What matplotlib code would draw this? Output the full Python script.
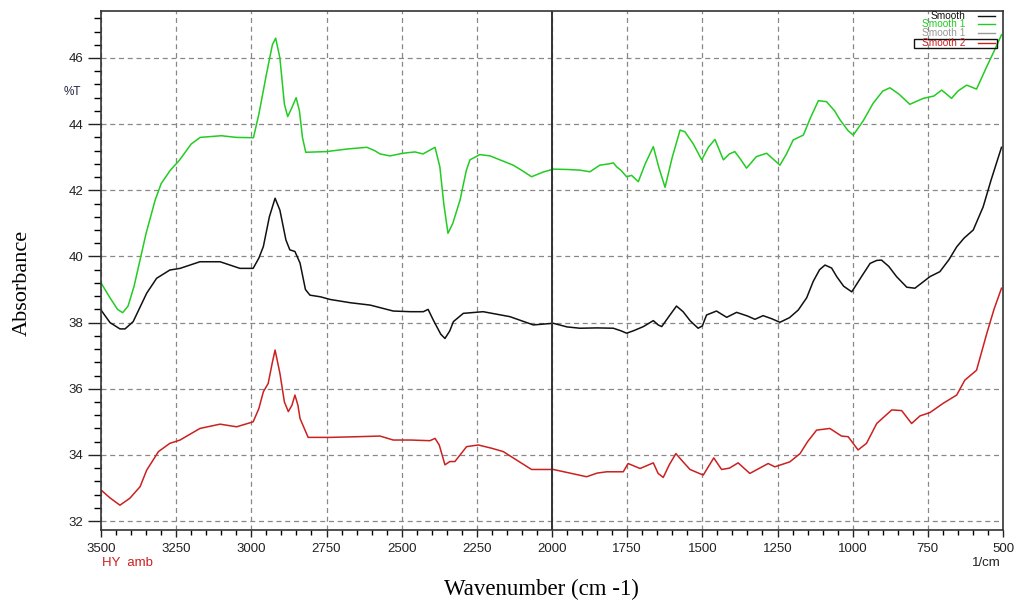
import matplotlib
matplotlib.use("Agg")
import matplotlib.pyplot as plt
from matplotlib.ticker import MultipleLocator
from matplotlib.patches import Rectangle

# --- spectra (wavenumber in 1/cm, %T) ---
wn_smooth = [3500, 3470, 3437, 3420, 3393, 3348, 3315, 3271, 3237, 3171, 3104, 3038, 2994, 2975,
             2960, 2940, 2921, 2905, 2885, 2872, 2855, 2838, 2820, 2805, 2770, 2738, 2670, 2605,
             2528, 2470, 2428, 2412, 2395, 2370, 2356, 2340, 2328, 2295, 2229, 2140, 2062, 1996,
             1950, 1907, 1850, 1796, 1770, 1752, 1730, 1696, 1663, 1647, 1635, 1610, 1586, 1564,
             1540, 1514, 1500, 1486, 1453, 1419, 1386, 1350, 1325, 1298, 1270, 1242, 1210, 1181,
             1153, 1131, 1110, 1092, 1070, 1053, 1030, 1003, 970, 942, 920, 904, 880, 854, 820,
             793, 770, 743, 710, 680, 654, 630, 599, 566, 540, 505]
t_smooth = [38.38, 38.0, 37.81, 37.81, 38.03, 38.89, 39.34, 39.59, 39.64, 39.84, 39.84, 39.64, 39.64, 39.95,
            40.3, 41.2, 41.76, 41.4, 40.5, 40.2, 40.15, 39.8, 39.0, 38.83, 38.78, 38.7, 38.6, 38.53,
            38.35, 38.33, 38.33, 38.4, 38.08, 37.65, 37.52, 37.75, 38.03, 38.28, 38.33, 38.18, 37.93, 37.98,
            37.87, 37.83, 37.84, 37.83, 37.75, 37.68, 37.75, 37.88, 38.06, 37.93, 37.88, 38.2, 38.5, 38.33,
            38.05, 37.83, 37.9, 38.23, 38.35, 38.16, 38.31, 38.2, 38.10, 38.21, 38.12, 38.01, 38.15, 38.38,
            38.75, 39.25, 39.6, 39.74, 39.65, 39.39, 39.1, 38.93, 39.4, 39.79, 39.88, 39.89, 39.7, 39.39, 39.07,
            39.04, 39.2, 39.39, 39.54, 39.9, 40.29, 40.55, 40.80, 41.50, 42.3, 43.3]

wn_smooth1 = [3500, 3470, 3445, 3428, 3410, 3390, 3370, 3350, 3320, 3300, 3270, 3240, 3200, 3170, 3100,
              3050, 2993, 2975, 2950, 2930, 2919, 2905, 2890, 2879, 2865, 2851, 2840, 2830, 2819, 2750,
              2680, 2616, 2590, 2572, 2539, 2496, 2456, 2429, 2389, 2373, 2360, 2346, 2330, 2306, 2285,
              2273, 2240, 2206, 2173, 2129, 2100, 2068, 2030, 1996, 1950, 1907, 1874, 1841, 1810, 1796,
              1785, 1770, 1752, 1735, 1713, 1690, 1663, 1645, 1624, 1600, 1574, 1558, 1530, 1502, 1480,
              1458, 1430, 1410, 1392, 1370, 1353, 1320, 1286, 1242, 1220, 1198, 1164, 1140, 1114, 1087,
              1060, 1042, 1015, 998, 965, 932, 900, 876, 845, 810, 765, 730, 704, 671, 650, 621, 588,
              554, 530, 505]
t_smooth1 = [39.2, 38.75, 38.4, 38.3, 38.5, 39.1, 39.9, 40.7, 41.7, 42.2, 42.6, 42.9, 43.4, 43.6, 43.65,
             43.6, 43.59, 44.3, 45.5, 46.4, 46.6, 46.0, 44.6, 44.23, 44.5, 44.8, 44.4, 43.6, 43.15, 43.17,
             43.25, 43.3, 43.2, 43.1, 43.04, 43.12, 43.16, 43.1, 43.3, 42.71, 41.6, 40.7, 41.0, 41.7, 42.6,
             42.92, 43.08, 43.04, 42.92, 42.76, 42.6, 42.41, 42.55, 42.64, 42.63, 42.61, 42.56, 42.76, 42.8, 42.83,
             42.71, 42.6, 42.41, 42.45, 42.26, 42.8, 43.32, 42.7, 42.09, 43.0, 43.82, 43.77, 43.4, 42.92, 43.3,
             43.54, 42.92, 43.1, 43.17, 42.9, 42.67, 43.02, 43.12, 42.76, 43.1, 43.52, 43.67, 44.2, 44.71, 44.68,
             44.4, 44.13, 43.8, 43.67, 44.1, 44.63, 45.0, 45.10, 44.9, 44.60, 44.78, 44.85, 45.03, 44.78, 45.0, 45.18, 45.06,
             45.74, 46.2, 46.7]

wn_smooth2 = [3500, 3470, 3437, 3404, 3370, 3348, 3309, 3271, 3237, 3171, 3104, 3049, 2994, 2975, 2960,
              2944, 2930, 2921, 2905, 2890, 2877, 2865, 2855, 2845, 2838, 2811, 2738, 2650, 2572, 2528,
              2470, 2406, 2389, 2375, 2356, 2340, 2323, 2284, 2245, 2200, 2162, 2110, 2068, 1996, 1940,
              1885, 1850, 1818, 1763, 1747, 1707, 1663, 1647, 1630, 1610, 1588, 1565, 1541, 1497, 1462,
              1436, 1410, 1381, 1342, 1281, 1259, 1209, 1175, 1150, 1120, 1076, 1037, 1015, 982, 954,
              920, 870, 837, 804, 776, 743, 699, 654, 627, 588, 554, 530, 505]
t_smooth2 = [32.94, 32.7, 32.48, 32.69, 33.04, 33.54, 34.10, 34.35, 34.45, 34.80, 34.93, 34.85, 35.00, 35.4, 35.91,
             36.16, 36.8, 37.17, 36.47, 35.6, 35.31, 35.5, 35.81, 35.5, 35.10, 34.53, 34.53, 34.55, 34.57, 34.45,
             34.45, 34.43, 34.50, 34.3, 33.70, 33.8, 33.80, 34.25, 34.30, 34.2, 34.10, 33.8, 33.56, 33.56, 33.45,
             33.34, 33.45, 33.49, 33.49, 33.74, 33.59, 33.76, 33.44, 33.32, 33.7, 34.04, 33.8, 33.56, 33.39, 33.91,
             33.56, 33.6, 33.76, 33.44, 33.74, 33.64, 33.79, 34.04, 34.4, 34.75, 34.80, 34.57, 34.55, 34.15, 34.35,
             34.95, 35.36, 35.34, 34.95, 35.18, 35.28, 35.56, 35.81, 36.26, 36.56, 37.67, 38.4, 39.04]

legend_labels = ["Smooth", "Smooth 1", "Smooth 1", "Smooth 2"]
legend_colors = ["#111111", "#22cc22", "#9a9a9a", "#cc2020"]

x_ticks = [3500, 3250, 3000, 2750, 2500, 2250, 2000, 1750, 1500, 1250, 1000, 750, 500]
y_ticks = [32, 34, 36, 38, 40, 42, 44, 46]

W, H = 1016, 601
fig = plt.figure(figsize=(W / 100, H / 100), dpi=100)
ax = fig.add_axes([101 / W, 1 - 530 / H, (1003 - 101) / W, (530 - 10.7) / H])

ax.plot(wn_smooth1, t_smooth1, color="#22cc22", lw=1.1)
ax.plot(wn_smooth, t_smooth, color="#111111", lw=1.1)
ax.plot(wn_smooth2, t_smooth2, color="#cc2020", lw=1.1)

ax.set_xlim(3500, 500)
ax.set_ylim(31.73, 47.43)
ax.set_xticks(x_ticks)
ax.set_yticks(y_ticks)
ax.xaxis.set_minor_locator(MultipleLocator(50))
ax.yaxis.set_minor_locator(MultipleLocator(0.4))
ax.grid(True, which="major", color="#888888", ls=(0, (4, 3)), lw=0.9)
ax.set_axisbelow(True)

ax.tick_params(axis="y", which="major", length=9.5, width=1.0, labelsize=9.5, colors="#222222", pad=3)
ax.tick_params(axis="y", which="minor", length=5, width=1.0)
ax.tick_params(axis="x", which="major", length=5, width=1.0, labelsize=9.5, colors="#222222", pad=4)
ax.tick_params(axis="x", which="minor", length=3.5, width=1.0)
for lab in ax.get_xticklabels() + ax.get_yticklabels():
    lab.set_family(["Liberation Sans", "DejaVu Sans"])
for sp in ax.spines.values():
    sp.set_color("#333333")
    sp.set_linewidth(1.2)

# cursor at 2000 1/cm
ax.axvline(2000, color="#333333", lw=1.4)

# legend block in the top-right corner
lx_text, lx0, lx1 = 965, 978, 995
rows_y = [15.7, 24.3, 33.3, 42.5]
for lab, col, yy in zip(legend_labels, legend_colors, rows_y):
    fig.text(lx_text / W, 1 - yy / H, lab, color=col, fontsize=7.3, ha="right", va="center",
             family=["Liberation Sans", "DejaVu Sans"])
    fig.add_artist(plt.Line2D([lx0 / W, lx1 / W], [1 - yy / H, 1 - yy / H], color=col, lw=1.0))
fig.add_artist(Rectangle((914 / W, 1 - 48 / H), (997 - 914) / W, (48 - 38.5) / H,
                         fill=False, edgecolor="#111111", lw=1.0, transform=fig.transFigure))

fig.text(72 / W, 1 - 92 / H, "%T", fontsize=8.5, color="#222244", ha="center", va="center",
         family=["Liberation Sans", "DejaVu Sans"])
fig.text(102 / W, 1 - 563 / H, "HY  amb", fontsize=9.5, color="#cc2020", ha="left", va="center",
         family=["Liberation Sans", "DejaVu Sans"])
fig.text(1001 / W, 1 - 563 / H, "1/cm", fontsize=9.5, color="#222222", ha="right", va="center",
         family=["Liberation Sans", "DejaVu Sans"])

fig.text(541 / W, 1 - 589 / H, "Wavenumber (cm -1)", fontsize=16.5, ha="center", va="center",
         family=["Liberation Serif", "DejaVu Serif"])
fig.text(22 / W, 1 - 283 / H, "Absorbance", fontsize=16, rotation=90, ha="center", va="center",
         family=["Liberation Serif", "DejaVu Serif"])

fig.savefig("out.png", dpi=100)
